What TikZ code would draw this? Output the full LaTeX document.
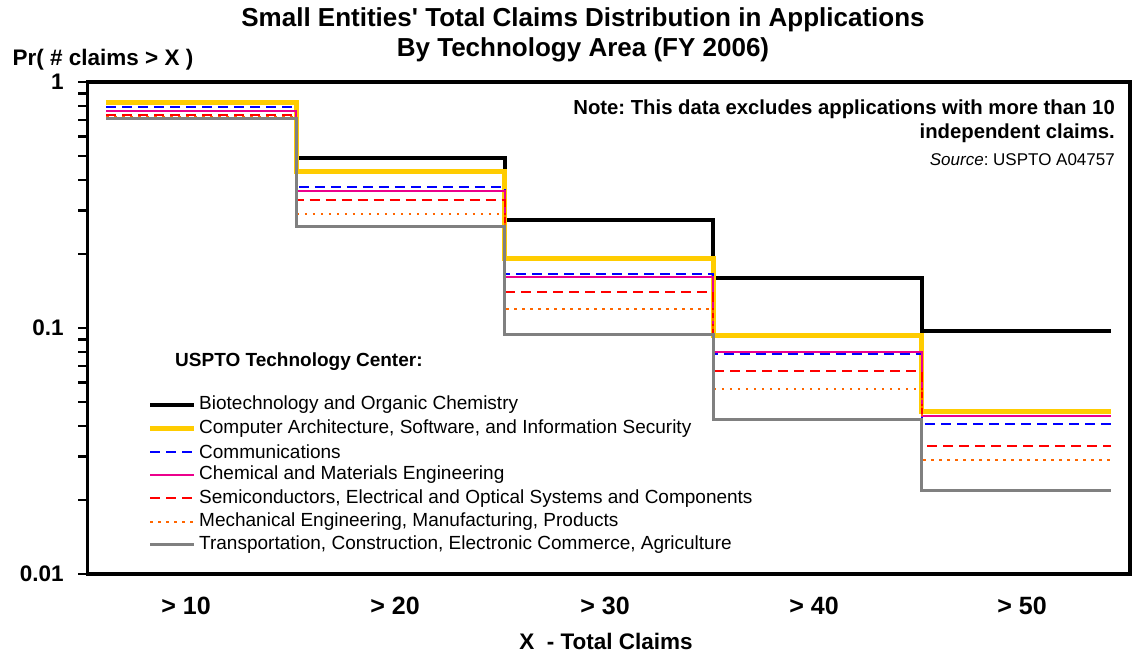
\documentclass[tikz,border=0pt]{standalone}
\usepackage{fontspec}
\setmainfont{Liberation Sans}
\frenchspacing
\definecolor{techyellow}{RGB}{255,204,0}
\definecolor{techorange}{RGB}{255,102,0}
\definecolor{techgray}{RGB}{128,128,128}
\tikzset{
  plotframe/.style={line width=3.5pt},
  axtick/.style={line width=2.5pt},
  bio/.style={line width=4pt,black},
  comp/.style={line width=5pt,techyellow},
  comm/.style={line width=2pt,blue,dash pattern=on 10pt off 6pt},
  chem/.style={line width=2pt,magenta},
  semi/.style={line width=2pt,red,dash pattern=on 10pt off 6pt},
  mech/.style={line width=2pt,techorange,dash pattern=on 2.5pt off 5.5pt},
  trans/.style={line width=3pt,techgray},
  ticklbl/.style={font=\fontsize{22.5}{26}\selectfont\bfseries,anchor=east,inner sep=0pt},
  catlbl/.style={font=\fontsize{25}{28}\selectfont\bfseries,inner sep=0pt},
  legtext/.style={font=\fontsize{19}{22}\selectfont,anchor=west,inner sep=0pt},
}
\begin{document}
\begin{tikzpicture}[x=1pt,y=-1pt]
  \useasboundingbox (0,0) rectangle (1133,656);
  % titles
  \node[font=\fontsize{26}{30}\selectfont\bfseries,align=center] (title) at (583,35)
    {Small Entities\textquotesingle\ Total Claims Distribution in Applications\\By Technology Area (FY 2006)};
  \node[font=\fontsize{22.5}{26}\selectfont\bfseries] (ylabel) at (103,60) {Pr( \# claims > X )};
  \node[font=\fontsize{22.5}{26}\selectfont\bfseries] (xlabel) at (606,641) {X\ \ - Total Claims};
  % note
  \node[font=\fontsize{20.3}{24}\selectfont\bfseries,anchor=north east,align=right,inner sep=0pt] (note) at (1115,100)
    {Note: This data excludes applications with more than 10\\independent claims.};
  \node[font=\fontsize{17}{20}\selectfont,anchor=east,inner sep=0pt] (source) at (1115,160) {\textit{Source}: USPTO A04757};
  % plot
  \begin{scope}[shift={(87.5,82)},x=208.5pt,y=246pt]
    \foreach \d in {0,-1} {
      \foreach \k in {2,...,9}
        \draw[axtick] (-0.045,{\d-1+log10(\k)}) -- (0,{\d-1+log10(\k)});
    }
    \foreach \d in {0,-1,-2}
      \draw[axtick] (-0.045,\d) -- (0,\d);
    \node[ticklbl] (t0) at (-0.113,0) {1};
    \node[ticklbl] (t1) at (-0.113,-1) {0.1};
    \node[ticklbl] (t2) at (-0.113,-2) {0.01};
    % step curves
    \foreach \sty/\a/\b/\c/\e/\f in {
        bio/0.829/0.491/0.275/0.158/0.097,
        comp/0.829/0.431/0.191/0.0928/0.0458,
        comm/0.788/0.375/0.1653/0.0777/0.0403,
        chem/0.760/0.360/0.160/0.0794/0.0436,
        semi/0.734/0.332/0.1378/0.0655/0.0324,
        mech/0.721/0.290/0.1195/0.0563/0.0291,
        trans/0.709/0.258/0.0943/0.0423/0.0218}
      \draw[\sty] (0.09,{log10(\a)}) -| (1,{log10(\b)}) -| (2,{log10(\c)})
        -| (3,{log10(\e)}) -| (4,{log10(\f)}) -- (4.91,{log10(\f)});
    \draw[plotframe] (0,0) rectangle (5,-2);
  \end{scope}
  % category labels
  \node[catlbl] (c10) at (186,606) {> 10};
  \node[catlbl] (c20) at (395,606) {> 20};
  \node[catlbl] (c30) at (605,606) {> 30};
  \node[catlbl] (c40) at (814,606) {> 40};
  \node[catlbl] (c50) at (1022,606) {> 50};
  % legend
  \node[font=\fontsize{19}{22}\selectfont\bfseries,anchor=west,inner sep=0pt] (legtitle) at (175,362) {USPTO Technology Center:};
  \foreach \sty/\txt [count=\i] in {
      bio/Biotechnology and Organic Chemistry,
      comp/{Computer Architecture, Software, and Information Security},
      comm/Communications,
      chem/Chemical and Materials Engineering,
      semi/{Semiconductors, Electrical and Optical Systems and Components},
      mech/{Mechanical Engineering, Manufacturing, Products},
      trans/{Transportation, Construction, Electronic Commerce, Agriculture}} {
    \node[legtext] (leg\i) at (199,{405+23.3*(\i-1)}) {\txt};
    \coordinate (legstart\i) at (150,{405+23.3*(\i-1)});
    \draw[\sty] (legstart\i) -- ([xshift=-5pt]leg\i.west);
  }
\end{tikzpicture}
\end{document}
